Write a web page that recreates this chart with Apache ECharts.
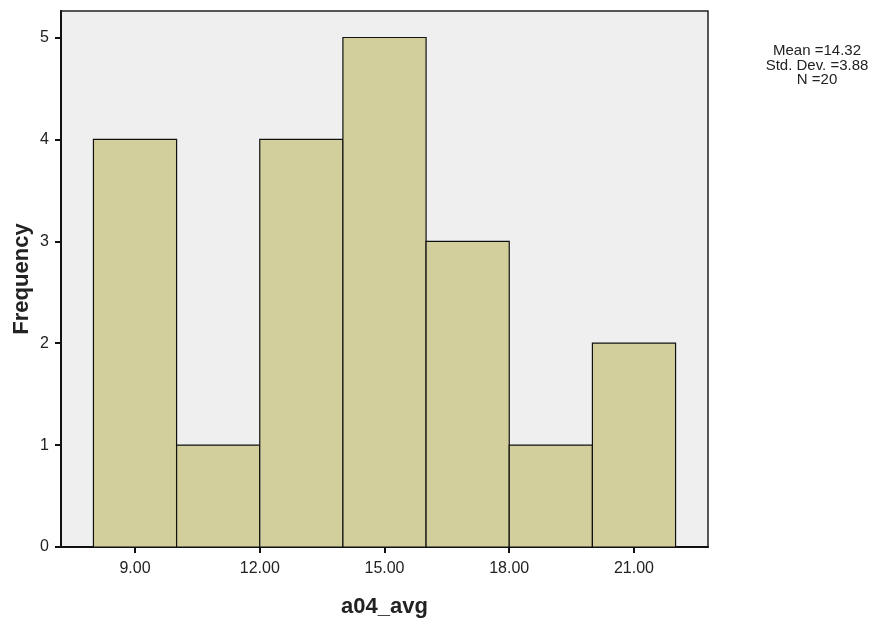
<!DOCTYPE html>
<html>
<head>
<meta charset="utf-8">
<script src="https://cdn.jsdelivr.net/npm/echarts@6/dist/echarts.min.js"></script>
<style>
  html, body { margin: 0; padding: 0; background: #ffffff; }
  #chart { width: 885px; height: 626px; }
</style>
</head>
<body>
<div id="chart"></div>
<script>
// Histogram of a04_avg: bin edges (width 2) and frequency per bin
const binStarts = [8, 10, 12, 14, 16, 18, 20];
const binWidth = 2;
const frequencies = [4, 1, 4, 5, 3, 1, 2];
const xTickValues = [9, 12, 15, 18, 21];
const yTickValues = [0, 1, 2, 3, 4, 5];
const statsLines = ['Mean =14.32', 'Std. Dev. =3.88', 'N =20'];

const FONT = 'Liberation Sans, Arial, sans-serif';

const chart = echarts.init(document.getElementById('chart'), null, { renderer: 'canvas' });

const barData = binStarts.map((s, i) => [s, s + binWidth, frequencies[i]]);

chart.setOption({
  animation: false,
  backgroundColor: '#ffffff',
  grid: {
    left: 61, right: 177, top: 11, bottom: 79,
    show: true,
    backgroundColor: '#efefef',
    borderColor: '#222222',
    borderWidth: 1.5
  },
  xAxis: {
    type: 'value',
    min: 7.22,
    max: 22.78,
    name: 'a04_avg',
    nameLocation: 'middle',
    nameGap: 49,
    nameTextStyle: { fontFamily: FONT, fontSize: 22, fontWeight: 'bold', color: '#222' },
    axisLine: { show: true, lineStyle: { color: '#111', width: 2 } },
    axisTick: { show: true, length: 6, lineStyle: { color: '#111', width: 2 }, customValues: xTickValues },
    axisLabel: {
      customValues: xTickValues,
      margin: 14,
      fontFamily: FONT, fontSize: 16, color: '#222',
      formatter: v => v.toFixed(2)
    },
    splitLine: { show: false }
  },
  yAxis: {
    type: 'value',
    min: 0,
    max: 5.26,
    axisLine: { show: true, lineStyle: { color: '#111', width: 2 } },
    axisTick: { show: true, length: 6, lineStyle: { color: '#111', width: 2 }, customValues: yTickValues },
    axisLabel: {
      customValues: yTickValues,
      margin: 12,
      fontFamily: FONT, fontSize: 16, color: '#222'
    },
    splitLine: { show: false }
  },
  series: [{
    type: 'custom',
    data: barData,
    encode: { x: [0, 1], y: 2 },
    renderItem: function (params, api) {
      const p0 = api.coord([api.value(0), 0]);
      const p1 = api.coord([api.value(1), api.value(2)]);
      return {
        type: 'rect',
        shape: { x: p0[0], y: p1[1], width: p1[0] - p0[0], height: p0[1] - p1[1] },
        style: { fill: '#d3cf9c', stroke: '#111111', lineWidth: 1.2 }
      };
    }
  }],
  graphic: [
    {
      // y-axis title
      type: 'text',
      x: 22,
      y: 279,
      rotation: Math.PI / 2,
      style: {
        text: 'Frequency',
        align: 'center',
        verticalAlign: 'middle',
        font: 'bold 22px ' + FONT,
        fill: '#222'
      }
    },
    {
      // summary statistics
      type: 'text',
      x: 817,
      y: 44,
      style: {
        text: statsLines.join('\n'),
        align: 'center',
        verticalAlign: 'top',
        font: '15px ' + FONT,
        lineHeight: 14.5,
        fill: '#222'
      }
    }
  ]
});
</script>
</body>
</html>
